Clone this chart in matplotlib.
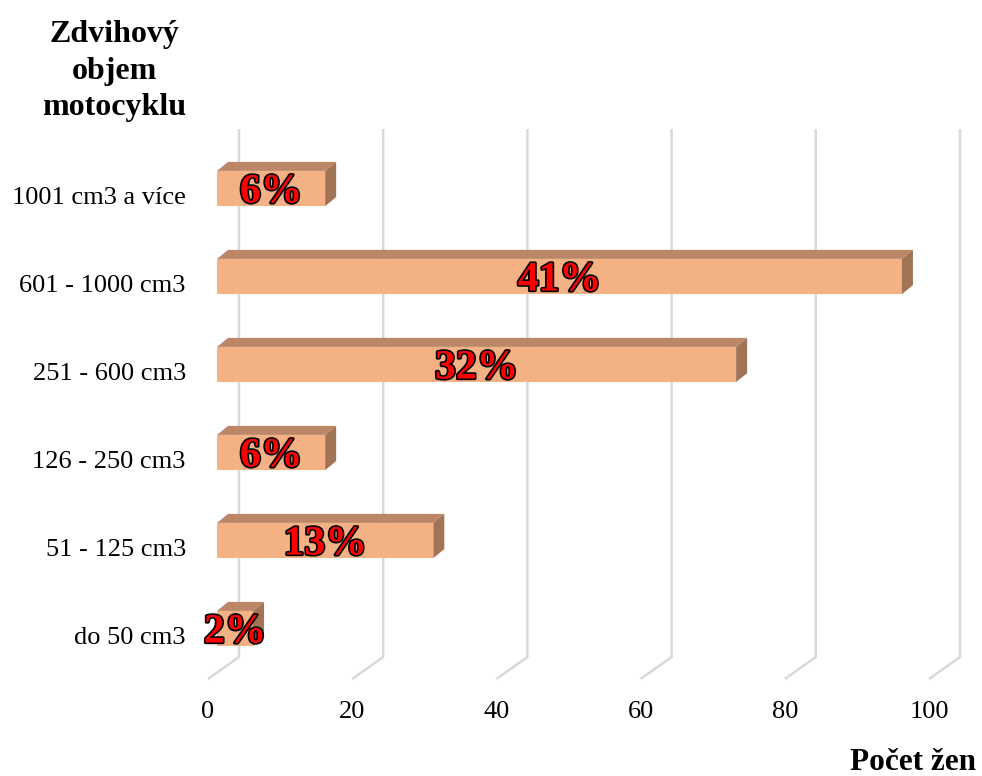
import matplotlib
matplotlib.use("Agg")
import matplotlib.pyplot as plt
import matplotlib.patheffects as pe
from matplotlib.patches import Polygon

categories = ["do 50 cm3", "51 - 125 cm3", "126 - 250 cm3", "251 - 600 cm3",
              "601 - 1000 cm3", "1001 cm3 a více"]
counts = [5, 30, 15, 72, 95, 15]
pct_labels = ["2%", "13%", "6%", "32%", "41%", "6%"]
xticks = [0, 20, 40, 60, 80, 100]

plt.rcParams['font.family'] = ['Liberation Serif', 'DejaVu Serif']

W, H = 982, 776
fig = plt.figure(figsize=(W / 100, H / 100), dpi=100)
ax_l, ax_r, ax_t, ax_b = 208, 929, 151, 679
ax = fig.add_axes([ax_l / W, 1 - ax_b / H, (ax_r - ax_l) / W, (ax_b - ax_t) / H])
ax.set_xlim(0, 100)
ax.set_ylim(-0.5, 5.5)

# pixel -> data conversion
px_x = 100 / (ax_r - ax_l)
px_y = 6 / (ax_b - ax_t)

grid_dx, grid_dy = 31 * px_x, 22 * px_y
bar_off_x, bar_off_y = 9 * px_x, 6.5 * px_y
depth_x, depth_y = 11 * px_x, 9 * px_y
bh = 0.4

grid_col = "#d9d9d9"
for v in xticks:
    ax.plot([v + grid_dx, v + grid_dx, v], [5.5 + grid_dy, -0.5 + grid_dy, -0.5],
            color=grid_col, lw=1.8, clip_on=False, zorder=1, solid_capstyle='butt')

front_col = "#F4B183"
top_col = "#BC8767"
side_col = "#A07454"
for i, (c, lab) in enumerate(zip(counts, pct_labels)):
    x0 = bar_off_x
    y0 = i + bar_off_y
    ax.barh(y0, c, left=x0, height=bh, color=front_col, zorder=3, clip_on=False)
    top = Polygon([(x0, y0 + bh / 2), (x0 + c, y0 + bh / 2),
                   (x0 + c + depth_x, y0 + bh / 2 + depth_y), (x0 + depth_x, y0 + bh / 2 + depth_y)],
                  closed=True, facecolor=top_col, edgecolor='none', zorder=3, clip_on=False)
    side = Polygon([(x0 + c, y0 - bh / 2), (x0 + c, y0 + bh / 2),
                    (x0 + c + depth_x, y0 + bh / 2 + depth_y), (x0 + c + depth_x, y0 - bh / 2 + depth_y)],
                   closed=True, facecolor=side_col, edgecolor='none', zorder=3, clip_on=False)
    ax.add_patch(top)
    ax.add_patch(side)
    t = ax.text(x0 + c / 2, y0 - 4 * px_y, lab, ha='center', va='center', fontsize=30,
                fontweight='bold', color='#FF0000', zorder=5, clip_on=False)
    t.set_path_effects([pe.withStroke(linewidth=2.4, foreground='black')])

for s in ax.spines.values():
    s.set_visible(False)
ax.set_yticks(range(len(categories)))
ax.set_yticklabels(categories, fontsize=19)
ax.set_xticks(xticks)
ax.set_xticklabels([str(v) for v in xticks], fontsize=19)
ax.tick_params(axis='y', length=0, pad=16)
ax.tick_params(axis='x', length=0, pad=16)

fig.text(114 / W, 1 - 71 / H, "Zdvihový\nobjem\nmotocyklu", ha='center', va='center',
         fontsize=23, fontweight='bold', linespacing=1.32)
fig.text(913 / W, 1 - 762 / H, "Počet žen", ha='center', va='center',
         fontsize=22.5, fontweight='bold')

fig.savefig("out.png", dpi=100)
